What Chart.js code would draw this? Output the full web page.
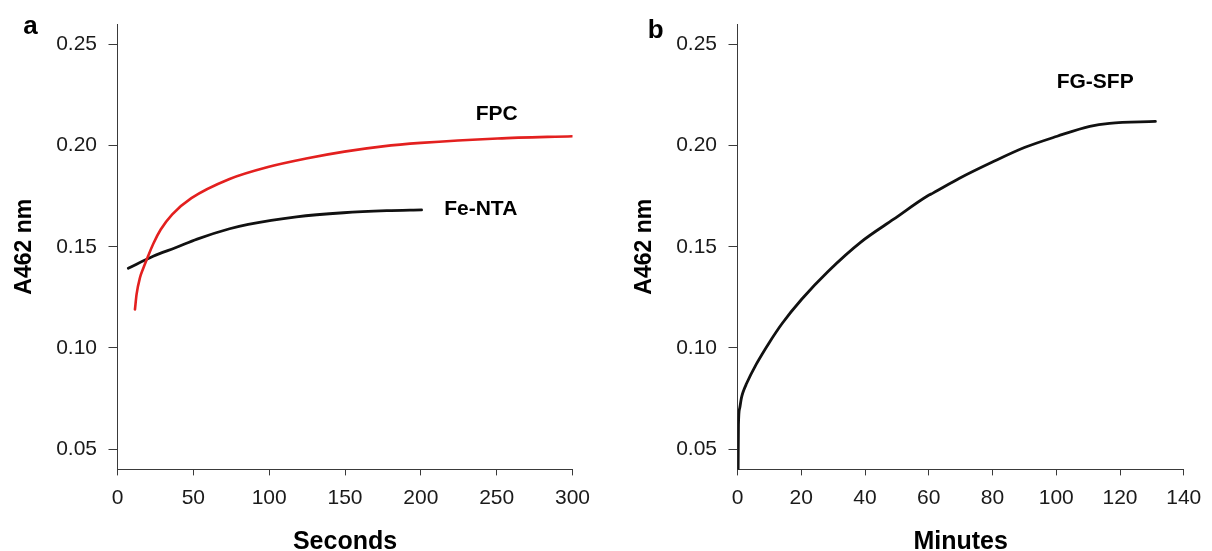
<!DOCTYPE html>
<html><head><meta charset="utf-8">
<script src="https://cdn.jsdelivr.net/npm/chart.js@4"></script>
<style>
html,body{margin:0;padding:0;background:#fff;overflow:hidden;}
#wrap{position:relative;width:1212px;height:551px;overflow:hidden;background:#fff;}
canvas{position:absolute;top:0;}
#ca{left:0;} #cb{left:620px;}
</style></head><body>
<div id="wrap"><canvas id="ca" width="606" height="580"></canvas><canvas id="cb" width="592" height="580"></canvas></div>
<script>
// ---- data ----
const fpcSeconds = [11.5, 12.6, 14.8, 17, 19.7, 23.6, 28.5, 36.1, 48.7, 73.9, 99.2, 124.4, 149.6, 174.9, 200, 250.6, 300];
const fpcA462    = [0.119, 0.1266, 0.1347, 0.1394, 0.1445, 0.1515, 0.1585, 0.1660, 0.1740, 0.1835, 0.1894, 0.1936, 0.1970, 0.1996, 0.2013, 0.2035, 0.2046];

const feNtaSeconds = [7.1, 23.5, 38.6, 52.5, 73.9, 86.2, 118, 149, 177.5, 200.5];
const feNtaA462    = [0.1394, 0.1453, 0.1496, 0.1538, 0.1589, 0.1611, 0.1648, 0.1668, 0.1678, 0.1682];

const fgSfpMinutes = [0.2, 0.3, 0.7, 1.2, 1.7, 2.8, 5.9, 9.9, 14.0, 20.2, 28.4, 38.7, 49, 59.7, 61.3, 69.5, 79.8, 90, 100.3, 110.5, 116.7, 131.1];
const fgSfpA462    = [0.040, 0.062, 0.0703, 0.0751, 0.0780, 0.0823, 0.092, 0.1025, 0.1121, 0.1242, 0.1378, 0.1523, 0.1636, 0.1752, 0.1765, 0.1837, 0.1917, 0.199, 0.2046, 0.2095, 0.211, 0.2119];

const yTicks = [0.05, 0.10, 0.15, 0.20, 0.25];
const xTicksSeconds = [0, 50, 100, 150, 200, 250, 300];
const xTicksMinutes = [0, 20, 40, 60, 80, 100, 120, 140];

const seriesLabelsA = ['FPC', 'Fe-NTA'];
const seriesLabelXA = [250, 239.5];
const seriesLabelYA = [0.2126, 0.1655];
const seriesLabelsB = ['FG-SFP'];
const seriesLabelXB = [112.2];
const seriesLabelYB = [0.2284];

// ---- styling ----
const FONT = '"Liberation Sans", Arial, Helvetica, sans-serif';
const AXIS = '#3a3a3a';

const textLabels = {
  id: 'textLabels',
  afterDraw(chart, args, opts) {
    const ctx = chart.ctx;
    ctx.save();
    ctx.fillStyle = '#000';
    ctx.textBaseline = 'alphabetic';
    (opts.items || []).forEach(it => {
      ctx.font = 'bold ' + it.size + 'px ' + FONT;
      ctx.textAlign = 'center';
      let px = it.x, py = it.y;
      if (it.data) {
        px = chart.scales.x.getPixelForValue(it.x);
        py = chart.scales.y.getPixelForValue(it.y);
      }
      ctx.fillText(it.text, px, py);
    });
    ctx.restore();
  }
};

function pts(xs, ys) { return xs.map((x, i) => ({x: x, y: ys[i]})); }

function makeChart(id, datasets, xMax, xTicks, xTitle, rightPad, items) {
  return new Chart(document.getElementById(id), {
    type: 'line',
    data: { datasets: datasets },
    plugins: [textLabels],
    options: {
      responsive: false,
      animation: false,
      events: [],
      layout: { padding: { left: 0, right: rightPad, top: 13.6, bottom: 0 } },
      plugins: { legend: { display: false }, tooltip: { enabled: false }, textLabels: { items: items } },
      elements: { point: { radius: 0 }, line: { cubicInterpolationMode: 'monotone', borderCapStyle: 'round', borderJoinStyle: 'round' } },
      scales: {
        x: {
          type: 'linear', min: 0, max: xMax,
          afterBuildTicks: s => { s.ticks = xTicks.map(v => ({value: v})); },
          afterFit: s => { s.height = 580 - 469.4; },
          grid: { drawOnChartArea: false, drawTicks: true, tickLength: 6, tickColor: AXIS, tickWidth: 1 },
          border: { display: true, color: AXIS, width: 1 },
          ticks: { padding: 10.7, color: '#1a1a1a', font: { family: FONT, size: 21 }, maxRotation: 0, autoSkip: false,
                   callback: v => String(v) },
          title: { display: true, text: xTitle, color: '#000', font: { family: FONT, size: 25, weight: 'bold' },
                   padding: { top: 0, bottom: 22.5 } }
        },
        y: {
          type: 'linear', min: 0.04, max: 0.26,
          afterBuildTicks: s => { s.ticks = yTicks.map(v => ({value: v})); },
          afterFit: s => { s.width = 117.5; },
          grid: { drawOnChartArea: false, drawTicks: true, tickLength: 9, tickColor: AXIS, tickWidth: 1 },
          border: { display: true, color: AXIS, width: 1 },
          ticks: { padding: 11.5, color: '#1a1a1a', font: { family: FONT, size: 21 }, autoSkip: false,
                   callback: v => Number(v).toFixed(2) },
          title: { display: true, text: 'A462 nm', color: '#000', font: { family: FONT, size: 23, weight: 'bold' },
                   padding: { top: 11.2, bottom: 0 } }
        }
      }
    }
  });
}

makeChart('ca', [
  { label: 'FPC', data: pts(fpcSeconds, fpcA462), borderColor: '#e3201f', borderWidth: 2.6, fill: false },
  { label: 'Fe-NTA', data: pts(feNtaSeconds, feNtaA462), borderColor: '#111', borderWidth: 2.8, fill: false }
], 300, xTicksSeconds, 'Seconds', 606 - 572.5, [
  { text: seriesLabelsA[0], x: seriesLabelXA[0], y: seriesLabelYA[0], data: true, size: 21 },
  { text: seriesLabelsA[1], x: seriesLabelXA[1], y: seriesLabelYA[1], data: true, size: 21 },
  { text: 'a', x: 30.5, y: 33.5, size: 26 }
]);

makeChart('cb', [
  { label: 'FG-SFP', data: pts(fgSfpMinutes, fgSfpA462), borderColor: '#111', borderWidth: 2.8, fill: false }
], 140, xTicksMinutes, 'Minutes', 592 - 572.3, [
  { text: seriesLabelsB[0], x: seriesLabelXB[0], y: seriesLabelYB[0], data: true, size: 21 },
  { text: 'b', x: 35.8, y: 38.3, size: 26 }
]);
</script>
</body></html>
